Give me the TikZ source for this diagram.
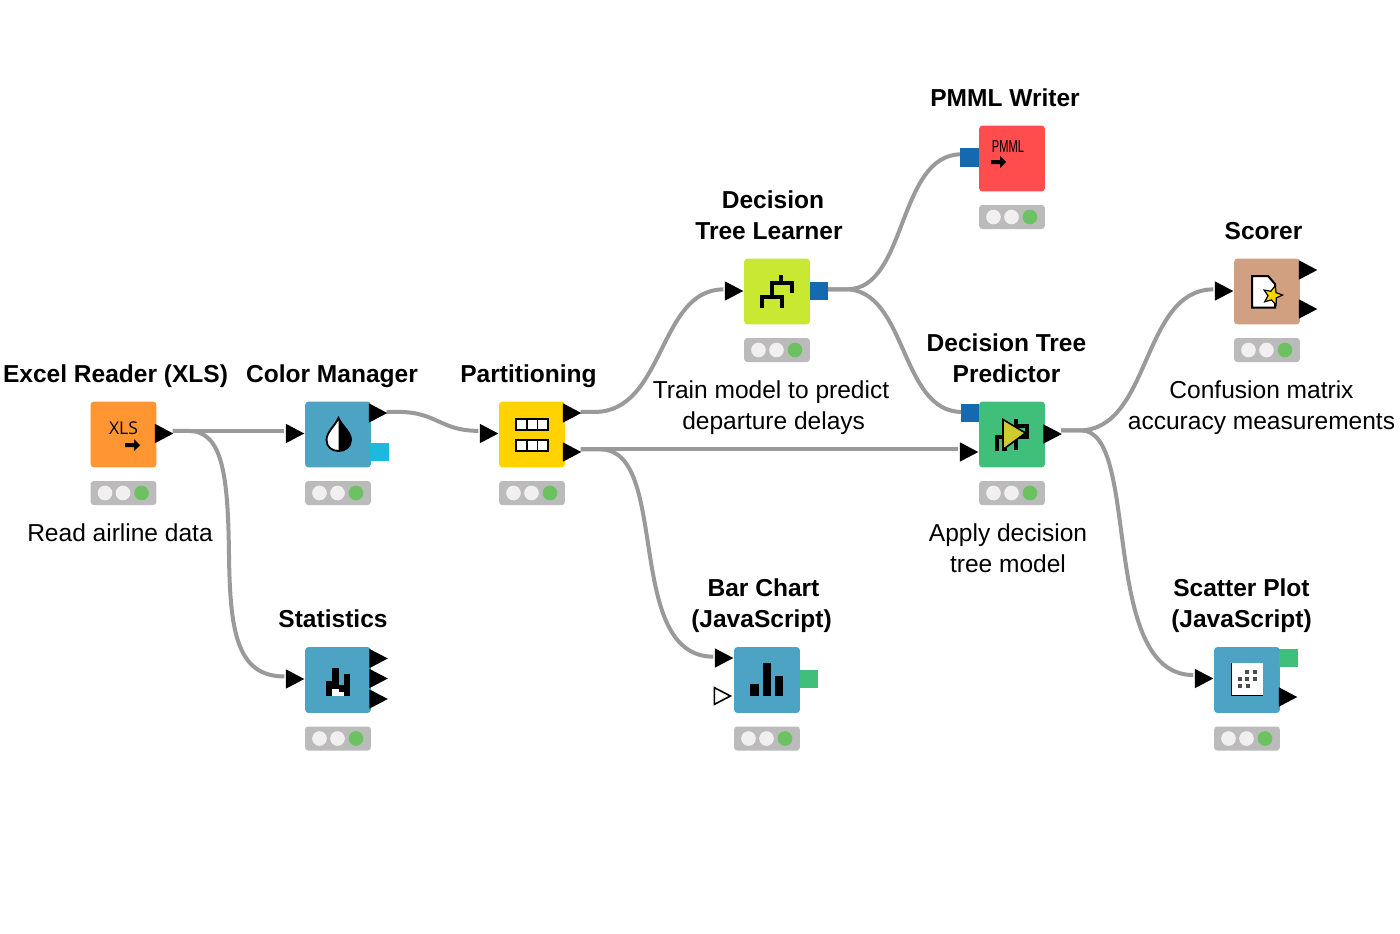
\documentclass[tikz,border=0pt]{standalone}
\usepackage{fontspec}
\setmainfont{Liberation Sans}
\newfontfamily\iconfont{Open Sans}
\usetikzlibrary{shapes.geometric,calc}
\pgfdeclarelayer{paper}
\pgfdeclarelayer{wires}
\pgfsetlayers{paper,wires,main}
\definecolor{cOrange}{HTML}{FF9632}
\definecolor{cBlue}{HTML}{4CA3C3}
\definecolor{cYellow}{HTML}{FFD200}
\definecolor{cLime}{HTML}{C8E832}
\definecolor{cRed}{HTML}{FF4D4D}
\definecolor{cGreen}{HTML}{40BF7A}
\definecolor{cTan}{HTML}{D0A080}
\definecolor{cStat}{HTML}{BBBBBB}
\definecolor{cDot}{HTML}{F1EFEF}
\definecolor{cLamp}{HTML}{6CC160}
\definecolor{cPmml}{HTML}{1469AF}
\definecolor{cCyan}{HTML}{1CB9DC}
\definecolor{cWire}{HTML}{9A9A9A}
\definecolor{cOlive}{HTML}{CFCB2E}
\tikzset{
  kbox/.style={rounded corners=2.2pt,minimum width=49.2pt,minimum height=49.2pt,inner sep=0pt,fill=#1},
  kstat/.style={rounded corners=2.2pt,minimum width=49.2pt,minimum height=18pt,inner sep=0pt,fill=cStat},
  tri/.style={isosceles triangle,isosceles triangle stretches,minimum width=14.5pt,minimum height=13.8pt,inner sep=0pt,fill=black,anchor=apex},
  hollowtri/.style={isosceles triangle,isosceles triangle stretches,minimum width=12.5pt,minimum height=12pt,inner sep=0pt,fill=white,draw=black,line width=1.2pt,anchor=apex},
  sq/.style={minimum width=14pt,minimum height=14pt,inner sep=0pt,fill=#1},
  wire/.style={draw=cWire,line width=3pt},
  head/.style={font=\bfseries\fontsize{18.4}{23.2}\selectfont,align=center,inner sep=0pt},
  note/.style={font=\fontsize{18.4}{23.2}\selectfont,align=center,inner sep=0pt},
  icon/.style={line width=2.8pt,draw=black},
}
\newcommand{\knode}[4]{%
  \node[kbox=#4] (#1) at (#2,#3) {};
  \node[kstat] (#1s) at (#2,#3+58.5) {};
  \fill[cDot] (#2-18.5,#3+58.5) circle (5.5pt);
  \fill[cDot] (#2-0.5,#3+58.5) circle (5.5pt);
  \fill[cLamp] (#2+18,#3+58.5) circle (5.5pt);
}
\newcommand{\rarrow}[2]{%
  \fill[black] (#1,#2-2) -- (#1+9,#2-2) -- (#1+9,#2-6) -- (#1+15,#2) -- (#1+9,#2+6) -- (#1+9,#2+2) -- (#1,#2+2) -- cycle;
}
\begin{document}
\begin{tikzpicture}[x=0.75pt,y=-0.75pt]
\begin{pgfonlayer}{paper}
\path[use as bounding box,fill=white] (0,0) rectangle (1400,933);
\end{pgfonlayer}

% nodes
\knode{excel}{123.5}{434.5}{cOrange}
\knode{color}{338}{434.5}{cBlue}
\knode{part}{532}{434.5}{cYellow}
\knode{learn}{777}{291.5}{cLime}
\knode{pmml}{1012}{158.5}{cRed}
\knode{pred}{1012}{434.5}{cGreen}
\knode{scorer}{1267}{291.5}{cTan}
\knode{stats}{338}{680}{cBlue}
\knode{bar}{767}{680}{cBlue}
\knode{scat}{1247}{680}{cBlue}

% ports
\node[tri] (excelOut) at (174,433.5) {};
\node[tri] (colorIn) at (305,433.5) {};
\node[tri] (colorOut) at (388,413) {};
\node[sq=cCyan] (colorOut2) at (379.5,452) {};
\node[tri] (partIn) at (499,433.5) {};
\node[tri] (partOutA) at (582,413) {};
\node[tri] (partOutB) at (582,452) {};
\node[tri] (learnIn) at (744,291) {};
\node[sq=cPmml] (learnOut) at (819,291) {};
\node[sq=cPmml] (pmmlIn) at (969.5,157.5) {};
\node[sq=cPmml] (predInA) at (970,413) {};
\node[tri] (predInB) at (979,452) {};
\node[tri] (predOut) at (1062.5,434) {};
\node[tri] (scorerIn) at (1234,291) {};
\node[tri] (scorerOutA) at (1318,270) {};
\node[tri] (scorerOutB) at (1318,309) {};
\node[tri] (statsIn) at (305,679) {};
\node[tri] (statsOutA) at (388.5,658.5) {};
\node[tri] (statsOutB) at (388.5,678.5) {};
\node[tri] (statsOutC) at (388.5,699) {};
\node[tri] (barIn) at (734,658) {};
\node[hollowtri] (barIn2) at (732.5,696) {};
\node[sq=cGreen] (barOut) at (809,679) {};
\node[tri] (scatIn) at (1214,678.5) {};
\node[sq=cGreen] (scatOutA) at (1288.5,658) {};
\node[tri] (scatOutB) at (1298,697) {};
\coordinate (exMid) at (229,555);

% connectors
\begin{pgfonlayer}{wires}
\draw[wire] ([yshift=1.9pt,xshift=-1pt]excelOut.apex) -- ([yshift=1.9pt,xshift=-1pt]colorIn.west);
\draw[wire] ([yshift=1.9pt,xshift=-1pt]excelOut.apex) -- ++(16,0) .. controls +(34,0) and +(-1,-80) .. (exMid) .. controls +(1,75) and +(-48,0) .. ([yshift=1.9pt,xshift=-1pt]statsIn.west);
\draw[wire] ([yshift=0.8pt,xshift=-1pt]colorOut.apex) -- ++(12,0) .. controls +(38,0) and +(-38,0) .. ([yshift=2pt,xshift=-1pt]partIn.west);
\draw[wire] ([yshift=0.8pt,xshift=-1pt]partOutA.apex) -- ++(14,0) .. controls +(70,0) and +(-65,0) .. ([yshift=1.2pt,xshift=-1pt]learnIn.west);
\draw[wire] ([yshift=1.9pt,xshift=-1pt]partOutB.apex) -- ([yshift=1.9pt,xshift=-1pt]predInB.west);
\draw[wire] ([yshift=1.9pt,xshift=-1pt]partOutB.apex) -- ++(20,0) .. controls +(70,0) and +(-90,0) .. ([yshift=1pt,xshift=-1pt]barIn.west);
\draw[wire] ([yshift=1.3pt,xshift=-1pt]learnOut.east) -- ++(20,0) .. controls +(60,0) and +(-64,0) .. ([yshift=2.4pt,xshift=1pt]pmmlIn.west);
\draw[wire] ([yshift=1.3pt,xshift=-1pt]learnOut.east) -- ++(18,0) .. controls +(62,0) and +(-62,0) .. ([yshift=0.8pt,xshift=1pt]predInA.west);
\draw[wire] ([yshift=2.7pt,xshift=-1pt]predOut.apex) -- ++(18,0) .. controls +(72,0) and +(-72,0) .. ([yshift=1.2pt,xshift=-1pt]scorerIn.west);
\draw[wire] ([yshift=2.7pt,xshift=-1pt]predOut.apex) -- ++(20,0) .. controls +(60,0) and +(-95,0) .. ([yshift=2.6pt,xshift=-1pt]scatIn.west);
\end{pgfonlayer}

% icons
% Excel reader
\node[font=\iconfont\fontsize{13.2}{13}\selectfont,inner sep=0pt] (xlsText) at (123.5,428.5) {XLS};
\rarrow{125}{445}
% Color manager drop
\fill[white,draw=black,line width=1.4pt] (338.5,418) .. controls (335,426) and (326.5,432) .. (326.5,440) .. controls (326.5,447) and (332,451) .. (338.5,451) .. controls (345,451) and (351,447) .. (351,440) .. controls (351,432) and (342,426) .. (338.5,418) -- cycle;
\fill[black] (338.5,418) .. controls (342,426) and (351,432) .. (351,440) .. controls (351,447) and (345,451) .. (338.5,451) -- cycle;
% Partitioning
\foreach \yy in {418,438.5} {
  \fill[black] (515,\yy) rectangle (548.5,\yy+13);
  \fill[white] (517,\yy+2) rectangle (526,\yy+11);
  \fill[white] (527.5,\yy+2) rectangle (536.5,\yy+11);
  \fill[white] (538,\yy+2) rectangle (546.5,\yy+11);
}
% Learner tree
\draw[icon] (781,275) -- (781,283);
\draw[icon] (791.7,293) -- (791.7,283) -- (771.7,283) -- (771.7,296.7);
\draw[icon] (762.3,307.5) -- (762.3,296.7) -- (781.7,296.7) -- (781.7,307.5);
% PMML
\node[font=\fontsize{13}{12}\selectfont,inner sep=0pt] (pmmlText) at (1008,147) {\scalebox{0.64}[1]{PMML}};
\rarrow{991}{162}
% Predictor
\draw[icon] (1016,419) -- (1016,450);
\draw[icon] (1016,426) -- (1027,426) -- (1027,436.7) -- (997.3,436.7) -- (997.3,450.7);
\draw[icon] (1005,436.7) -- (1005,450.7);
\fill[cOlive,draw=black,line width=1.2pt] (1003,419.5) -- (1003,449.5) -- (1025.5,433) -- cycle;
% Scorer
\fill[white,draw=black,line width=1.5pt] (1252,276) -- (1268,276) -- (1275,284) -- (1275,307.5) -- (1252,307.5) -- cycle;
\node[star,star points=5,star point ratio=2.2,minimum size=15pt,inner sep=0pt,fill=cYellow,draw=black,line width=0.9pt,rotate=-15] (scoreStar) at (1272.5,295.5) {};
% Statistics
\fill[black] (326,680.5) rectangle (331.5,696);
\fill[black] (331.5,667.5) rectangle (338.5,696);
\fill[black] (338.5,685) rectangle (344,696);
\fill[black] (344,673.5) rectangle (350,696);
\fill[white] (332,688.5) rectangle (338.5,696);
\fill[white] (338.5,692) rectangle (344,696);
% Bar chart
\fill[black] (750,684) rectangle (759,696);
\fill[black] (762.7,663.3) rectangle (771,696);
\fill[black] (775,675.7) rectangle (783.3,696);
% Scatter
\fill[white] (1231.7,663.3) rectangle (1263.3,695.7);
\draw[black,line width=1.1pt] (1231.7,663.3) -- (1231.7,695.7) -- (1263.3,695.7);
\foreach \xx/\yy in {1247/672,1255/672,1240.3/679,1247/679,1255/679,1240.3/686,1248.3/686} {
  \fill[black!70] (\xx-2,\yy-2) rectangle (\xx+2,\yy+2);
}

% labels
\node[head] (lExcel) at (115.5,376) {Excel Reader (XLS)};
\node[head] (lColor) at (332,376) {Color Manager};
\node[head] (lPart) at (528.5,376) {Partitioning};
\node[head] (lPmml) at (1005,98) {PMML Writer};
\node[head] (lLearn) at (769,215.5) {\hspace*{6pt}Decision\\Tree Learner};
\node[head] (lPred) at (1006.5,358.5) {Decision Tree\\Predictor};
\node[head] (lScorer) at (1263.5,231) {Scorer};
\node[head] (lStats) at (333,619) {Statistics};
\node[head] (lBar) at (761.5,605.5) {\hspace*{3pt}Bar Chart\\(JavaScript)};
\node[head] (lScat) at (1241.5,605.5) {Scatter Plot\\(JavaScript)};
\node[note] (nExcel) at (120,533) {Read airline data};
\node[note] (nLearn) at (771,407.5) {Train model to predict\\\hspace*{4pt}departure delays};
\node[note] (nPred) at (1008,548.5) {Apply decision\\tree model};
\node[note] (nScorer) at (1261.5,407.5) {Confusion matrix\\accuracy measurements};
\end{tikzpicture}
\end{document}
